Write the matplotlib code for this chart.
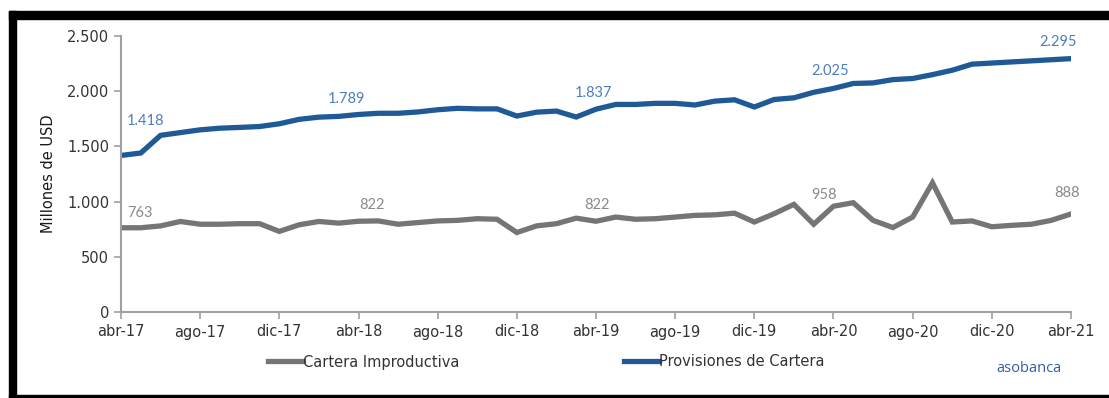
import matplotlib.pyplot as plt
from matplotlib.lines import Line2D
from matplotlib.patches import Rectangle

# meses abr-17 .. abr-21
meses = ["abr-17", "may-17", "jun-17", "jul-17", "ago-17", "sep-17", "oct-17", "nov-17",
         "dic-17", "ene-18", "feb-18", "mar-18", "abr-18", "may-18", "jun-18", "jul-18",
         "ago-18", "sep-18", "oct-18", "nov-18", "dic-18", "ene-19", "feb-19", "mar-19",
         "abr-19", "may-19", "jun-19", "jul-19", "ago-19", "sep-19", "oct-19", "nov-19",
         "dic-19", "ene-20", "feb-20", "mar-20", "abr-20", "may-20", "jun-20", "jul-20",
         "ago-20", "sep-20", "oct-20", "nov-20", "dic-20", "ene-21", "feb-21", "mar-21",
         "abr-21"]

cartera_improductiva = [763, 763, 780, 820, 795, 795, 800, 800,
                        730, 790, 820, 805, 822, 825, 795, 810,
                        825, 830, 845, 840, 720, 780, 800, 850,
                        822, 860, 840, 845, 860, 875, 880, 895,
                        815, 890, 975, 795, 958, 990, 830, 765,
                        860, 1170, 815, 825, 772, 785, 795, 830,
                        888]

provisiones = [1418, 1440, 1600, 1625, 1650, 1665, 1672, 1680,
               1705, 1745, 1765, 1772, 1789, 1800, 1800, 1812,
               1832, 1845, 1840, 1840, 1775, 1810, 1820, 1766,
               1837, 1880, 1880, 1890, 1890, 1875, 1910, 1922,
               1857, 1925, 1940, 1990, 2025, 2070, 2075, 2105,
               2115, 2150, 2190, 2245, 2255, 2265, 2275, 2285,
               2295]

etiquetas_idx = [0, 12, 24, 36, 48]
ticks_x = list(range(0, 49, 4))

azul = "#1f5a96"
gris = "#757575"
azul_txt = "#4a7fbf"
gris_txt = "#8a8a8a"
txt = "#333333"

plt.rcParams["font.family"] = ["DejaVu Sans"]

fig = plt.figure(figsize=(11.09, 3.98), dpi=100)
ax = fig.add_axes([121 / 1109, 86 / 398, 950 / 1109, 276 / 398])

x = list(range(len(meses)))
ax.plot(x, cartera_improductiva, color=gris, lw=3.8, solid_joinstyle="miter")
ax.plot(x, provisiones, color=azul, lw=3.8, solid_joinstyle="miter")

ax.set_xlim(0, 48)
ax.set_ylim(0, 2500)
ax.set_xticks(ticks_x)
ax.set_xticklabels([meses[i] for i in ticks_x])
ax.set_yticks([0, 500, 1000, 1500, 2000, 2500])
ax.set_yticklabels(["0", "500", "1.000", "1.500", "2.000", "2.500"])
ax.tick_params(colors="#a0a0a0", labelcolor=txt, labelsize=10.5, length=5, width=1.2)
ax.tick_params(axis="x", pad=4)
for s in ["top", "right"]:
    ax.spines[s].set_visible(False)
for s in ["left", "bottom"]:
    ax.spines[s].set_color("#a0a0a0")
    ax.spines[s].set_linewidth(1.5)
ax.set_ylabel("Millones de USD", fontsize=10.5, color="#1a1a1a", labelpad=8)

# etiquetas de datos
off_azul = [(24, 34), (-12, 15), (-2, 16), (-3, 17), (-13, 17)]
off_gris = [(19, 15), (13, 16), (1, 16), (-9, 11), (-4, 21)]
for k, i in enumerate(etiquetas_idx):
    ax.annotate(f"{provisiones[i]:,}".replace(",", "."), (i, provisiones[i]),
                xytext=off_azul[k], textcoords="offset pixels", ha="center", va="center",
                color=azul_txt, fontsize=10.5, family="Lato")
    ax.annotate(f"{cartera_improductiva[i]}", (i, cartera_improductiva[i]),
                xytext=off_gris[k], textcoords="offset pixels", ha="center", va="center",
                color=gris_txt, fontsize=10.5, family="Lato")

handles = [Line2D([], [], color=gris, lw=3.8), Line2D([], [], color=azul, lw=3.8)]
fig.legend(handles, ["Cartera Improductiva", "Provisiones de Cartera"],
           loc="center left", bbox_to_anchor=(255 / 1109, 1 - 362 / 398), ncol=2,
           frameon=False, fontsize=10.5, handlelength=2.4, handletextpad=0.0,
           columnspacing=11.3, labelcolor=txt)

fig.text(1029 / 1109, 1 - 368 / 398, "asobanca", color="#2f5fa8", fontsize=10.5,
         ha="center", va="center", family="Open Sans")

# marco negro
fig.patches.append(Rectangle((9 / 1109, 0), 7 / 1109, 1 - 11 / 398,
                             transform=fig.transFigure, color="black", zorder=10))
fig.patches.append(Rectangle((9 / 1109, 1 - 19 / 398), 1, 8 / 398,
                             transform=fig.transFigure, color="black", zorder=10))
fig.patches.append(Rectangle((9 / 1109, 0), 1, 3 / 398,
                             transform=fig.transFigure, color="black", zorder=10))

fig.savefig("out.png", dpi=100)
